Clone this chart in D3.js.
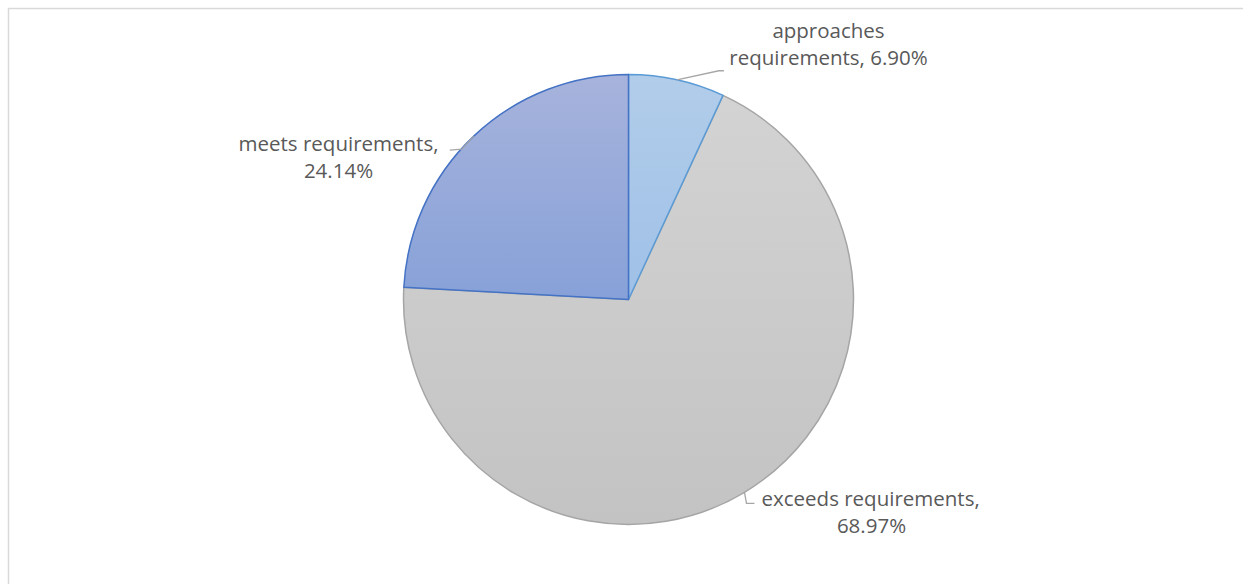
<!DOCTYPE html>
<html>
<head>
<meta charset="utf-8">
<script src="https://cdn.jsdelivr.net/npm/d3@7"></script>
<style>
  body { margin: 0; background: #fff; }
  svg { display: block; }
</style>
</head>
<body>
<svg id="chart" width="1243" height="584"></svg>
<script>
const categories = ["approaches requirements", "exceeds requirements", "meets requirements"];
const values = [6.90, 68.97, 24.14];
const labelLines = [
  ["approaches", "requirements, 6.90%"],
  ["exceeds requirements,", "68.97%"],
  ["meets requirements,", "24.14%"]
];

const svg = d3.select("#chart");
const cx = 628.5, cy = 299.5, radius = 225;

// chart area border
svg.append("rect")
  .attr("x", 8.5).attr("y", 8.5)
  .attr("width", 1300).attr("height", 700)
  .attr("fill", "none").attr("stroke", "#d9d9d9").attr("stroke-width", 1.5);

const fills = [["#b2cdea", "#9fc0e7"], ["#d3d3d3", "#c3c3c3"], ["#a7b3dc", "#87a1d8"]];
const strokes = ["#5b9bd5", "#a5a5a5", "#4472c4"];

const defs = svg.append("defs");
fills.forEach((f, i) => {
  const g = defs.append("linearGradient").attr("id", "g" + i)
    .attr("x1", 0).attr("y1", 0).attr("x2", 0).attr("y2", 1);
  g.append("stop").attr("offset", "0%").attr("stop-color", f[0]);
  g.append("stop").attr("offset", "100%").attr("stop-color", f[1]);
});

const pie = d3.pie().sort(null).value(d => d);
const arcs = pie(values);
const arc = d3.arc().innerRadius(0).outerRadius(radius);

const g = svg.append("g").attr("transform", `translate(${cx},${cy})`);

// draw gray first so the blue borders sit on top
[1, 0, 2].forEach(i => {
  g.append("path")
    .attr("d", arc(arcs[i]))
    .attr("fill", `url(#g${i})`)
    .attr("stroke", strokes[i])
    .attr("stroke-width", 1.5)
    .attr("stroke-linejoin", "round");
});

// label layout (offsets relative to pie centre)
const labels = [
  { x: 200, y: -262, anchor: "middle", leader: p => [p, [p[0] + 42, p[1] - 9], [p[0] + 47, p[1] - 9]] },
  { x: 133, y: 206, anchor: "start", leader: p => [p, [p[0] + 2, p[1] + 11], [p[0] + 10, p[1] + 11]] },
  { x: -290, y: -149, anchor: "middle", leader: p => [p, [p[0] - 12, p[1] + 13], [p[0] - 24, p[1] + 14]] }
];

const line = d3.line();
arcs.forEach((a, i) => {
  const mid = (a.startAngle + a.endAngle) / 2;
  const p = [radius * Math.sin(mid), -radius * Math.cos(mid)];
  const L = labels[i];
  g.append("path")
    .attr("d", line(L.leader(p)))
    .attr("fill", "none").attr("stroke", "#a6a6a6").attr("stroke-width", 1.3);

  const t = g.append("text")
    .attr("font-family", "'Open Sans', Lato, sans-serif")
    .attr("font-size", 20.5)
    .attr("fill", "#595959")
    .attr("text-anchor", L.anchor);
  labelLines[i].forEach((s, k) => {
    t.append("tspan")
      .attr("x", L.anchor === "start" && k === 1 ? L.x + 110 : L.x)
      .attr("y", L.y + k * 27.5)
      .attr("text-anchor", L.anchor === "start" && k === 1 ? "middle" : L.anchor)
      .text(s);
  });
});
</script>
</body>
</html>
